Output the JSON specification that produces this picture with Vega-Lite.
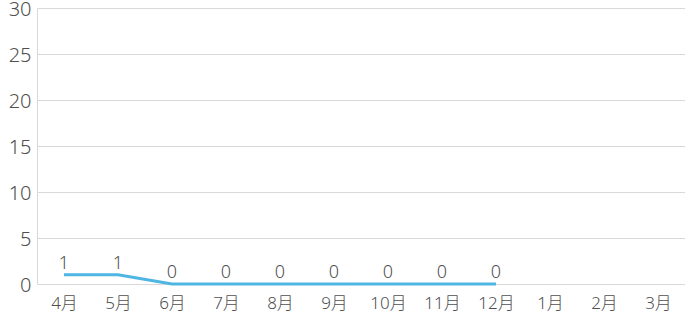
{
  "$schema": "https://vega.github.io/schema/vega-lite/v6.json",
  "autosize": {"type": "none"},
  "width": 648,
  "height": 276,
  "padding": {"left": 37, "top": 8, "right": 0, "bottom": 39},
  "config": {
    "view": {"stroke": null},
    "font": "Noto Sans, Noto Sans CJK JP"
  },
  "data": {
    "values": [
      {"month": "4月", "value": 1},
      {"month": "5月", "value": 1},
      {"month": "6月", "value": 0},
      {"month": "7月", "value": 0},
      {"month": "8月", "value": 0},
      {"month": "9月", "value": 0},
      {"month": "10月", "value": 0},
      {"month": "11月", "value": 0},
      {"month": "12月", "value": 0}
    ]
  },
  "encoding": {
    "x": {
      "field": "month",
      "type": "ordinal",
      "sort": null,
      "scale": {"domain": ["4月","5月","6月","7月","8月","9月","10月","11月","12月","1月","2月","3月"], "paddingInner": 0, "paddingOuter": 0},
      "axis": {"title": null, "labelAngle": 0, "domain": false, "ticks": false, "labelFontSize": 17, "labelFontWeight": 300, "labelColor": "#505050", "labelPadding": 11, "labelFont": "Noto Sans, Noto Sans CJK JP"}
    },
    "y": {
      "field": "value",
      "type": "quantitative",
      "scale": {"domain": [0, 30], "nice": false},
      "axis": {"title": null, "values": [0,5,10,15,20,25,30], "domain": true, "domainColor": "#d9d9d9", "ticks": false, "grid": true, "gridColor": "#d9d9d9", "labelFontSize": 20, "labelFontWeight": 300, "labelColor": "#505050", "labelPadding": 6, "labelOffset": 1, "labelFont": "Noto Sans, Noto Sans CJK JP"}
    }
  },
  "layer": [
    {"mark": {"type": "line", "color": "#4fb5e2", "strokeWidth": 3}},
    {"mark": {"type": "text", "baseline": "bottom", "dy": -2, "fontSize": 18, "fontWeight": 300, "font": "Noto Sans, Noto Sans CJK JP", "color": "#505050"}, "encoding": {"text": {"field": "value", "type": "quantitative"}}}
  ]
}
